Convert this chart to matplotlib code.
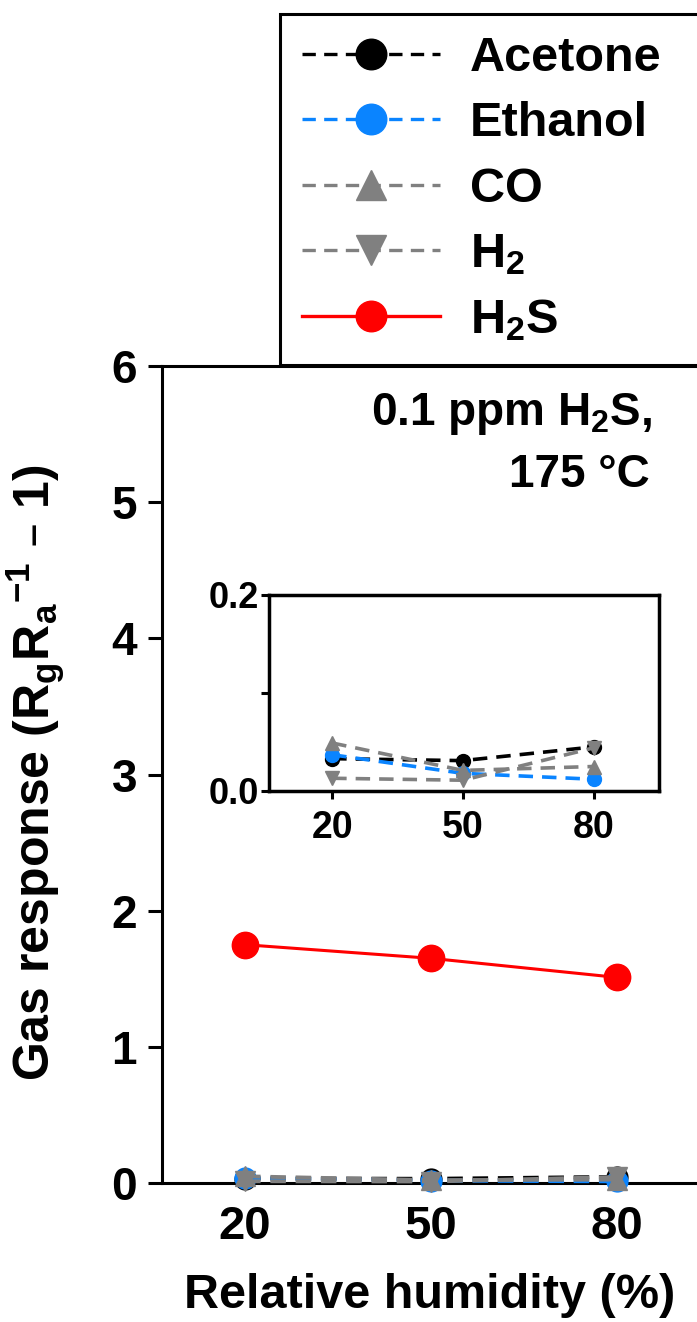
import matplotlib
matplotlib.use("Agg")
import matplotlib.pyplot as plt
from matplotlib.lines import Line2D

plt.rcParams['font.family'] = ['Liberation Sans', 'DejaVu Sans']
plt.rcParams['font.weight'] = 'bold'
plt.rcParams['mathtext.default'] = 'regular'

# ---- data ----
rh = [20, 50, 80]
acetone = [0.033, 0.031, 0.045]
ethanol = [0.037, 0.018, 0.012]
co = [0.049, 0.021, 0.025]
h2 = [0.013, 0.011, 0.044]
h2s = [1.75, 1.65, 1.51]

labels = ['Acetone', 'Ethanol', 'CO', r'H$_\mathregular{2}$', r'H$_\mathregular{2}$S']
colors = ['black', '#0A84FF', '#808080', '#808080', '#FF0000']
markers = ['o', 'o', '^', 'v', 'o']
styles = [(0, (4, 2.5)), (0, (4, 2.5)), (0, (4, 2.5)), (0, (4, 2.5)), '-']
series = [acetone, ethanol, co, h2, h2s]

W, H = 697, 1322
fig = plt.figure(figsize=(W / 100, H / 100), dpi=100)

def fx(px):
    return px / W

def fy(py):
    return 1 - py / H

# ---- main axes ----
ax = fig.add_axes([fx(162), fy(1183), fx(710) - fx(162), fy(366) - fy(1183)])
for i, (vals, c, m, ls) in enumerate(zip(series, colors, markers, styles)):
    big = (i == 4)
    ax.plot(rh, vals, color=c, marker=m, linestyle=ls,
            lw=2.2 if big else 2.8, markersize=19 if big else 15,
            zorder=5 if big else 3, clip_on=False)
ax.set_xlim(6.6, 95)
ax.set_ylim(0, 6)
ax.set_xticks(rh)
ax.set_yticks(range(0, 7))
for s in ax.spines.values():
    s.set_linewidth(2.2)
ax.tick_params(axis='y', direction='out', length=10, width=2.2, pad=8, labelsize=33)
ax.tick_params(axis='x', direction='out', length=4, width=2.2, pad=12, labelsize=34)
for lab in ax.get_xticklabels() + ax.get_yticklabels():
    lab.set_fontweight('bold')

# ---- inset ----
axi = fig.add_axes([fx(269), fy(791), fx(659) - fx(269), fy(595) - fy(791)])
for i, (vals, c, m, ls) in enumerate(zip(series[:4], colors[:4], markers[:4], styles[:4])):
    axi.plot(rh, vals, color=c, marker=m, linestyle=ls, lw=2.6, markersize=10, zorder=3)
axi.set_xlim(5.5, 95)
axi.set_ylim(0, 0.2)
axi.set_xticks(rh)
axi.set_yticks([0.0, 0.1, 0.2])
axi.set_yticklabels(['0.0', '', '0.2'])
for s in axi.spines.values():
    s.set_linewidth(2.5)
axi.tick_params(axis='y', direction='out', length=6, width=2.2, pad=1, labelsize=26)
axi.tick_params(axis='x', direction='out', length=6, width=2.2, pad=8, labelsize=27)
for lab in axi.get_xticklabels() + axi.get_yticklabels():
    lab.set_fontweight('bold')

# ---- legend ----
handles = [Line2D([], [], color=c, marker=m, linestyle=ls, lw=2.4, markersize=22)
           for c, m, ls in zip(colors, markers, styles)]
leg = fig.legend(handles, labels, loc='upper left',
                 bbox_to_anchor=(fx(280), fy(366), 0.75, fy(14) - fy(366)),
                 mode='expand', borderaxespad=0, fancybox=False, framealpha=1,
                 edgecolor='black', handlelength=2.85, handletextpad=0.6,
                 borderpad=0.45, labelspacing=0.42,
                 prop={'weight': 'bold', 'size': 35})
leg.get_frame().set_linewidth(2.2)

# ---- texts ----
fig.text(fx(652), fy(425), r'0.1 ppm H$_\mathregular{2}$S,', ha='right', va='baseline',
         fontsize=33, fontweight='bold')
fig.text(fx(650), fy(487), '175 °C', ha='right', va='baseline',
         fontsize=33, fontweight='bold')
fig.text(fx(430), fy(1308), 'Relative humidity (%)', ha='center', va='baseline',
         fontsize=35, fontweight='bold')
fig.text(fx(36), fy(773), r'Gas response (R$_\mathregular{g}$R$_\mathregular{a}$$^\mathregular{-1}$ – 1)',
         rotation=90, ha='center', va='center', fontsize=36, fontweight='bold')

fig.savefig('out.png', dpi=100)
